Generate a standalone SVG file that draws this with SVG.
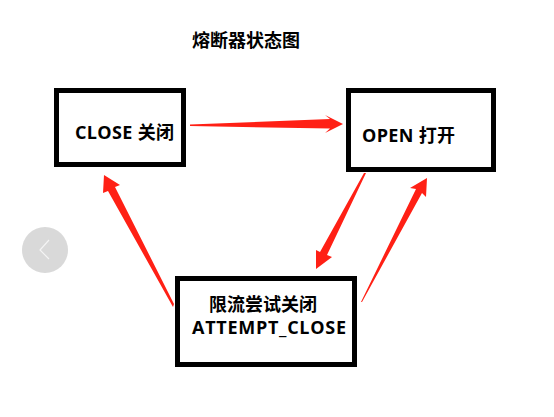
<svg xmlns="http://www.w3.org/2000/svg" width="554" height="417" viewBox="0 0 554 417">
<style>
.box{fill:#fff;stroke:#000;stroke-width:5}
.arrow{fill:#ff2015}
text{font-family:"Open Sans","Noto Sans CJK SC",sans-serif;font-size:18px;font-weight:700;fill:#000}
</style>
<rect width="554" height="417" fill="#fff"/>
<text id="title" x="192" y="47">熔断器状态图</text>
<g id="connectors">
<polygon class="arrow" points="190,124.500 330,119 325,115 343,124 325,133 330,128.500 190,126"/>
<polygon class="arrow" points="366,173 327,255 332,257 316,269 316,250 320,252 364,173"/>
<polygon class="arrow" points="361,302 416,189 410,188 427,178 426,197 422,193 362,302"/>
<polygon class="arrow" points="173,307 108,191 103,193 104,175 120,185 115,187 174,304"/>
</g>
<g id="node-close">
<rect class="box" x="56.500" y="90.500" width="127" height="74"/>
<text x="75" y="138.500" textLength="99">CLOSE 关闭</text>
</g>
<g id="node-open">
<rect class="box" x="348.500" y="90.500" width="145" height="79"/>
<text x="362" y="141.500" textLength="93">OPEN 打开</text>
</g>
<g id="node-attempt">
<rect class="box" x="177.500" y="278.500" width="177" height="86"/>
<text x="209" y="311">限流尝试关闭</text>
<text x="192" y="334" textLength="154">ATTEMPT_CLOSE</text>
</g>
<g id="nav-prev">
<circle cx="45" cy="250" r="23" fill="#d9d9d9"/>
<polyline points="49,240 40,250 49,259" fill="none" stroke="#f4f4f4" stroke-width="1.200"/>
</g>
</svg>
